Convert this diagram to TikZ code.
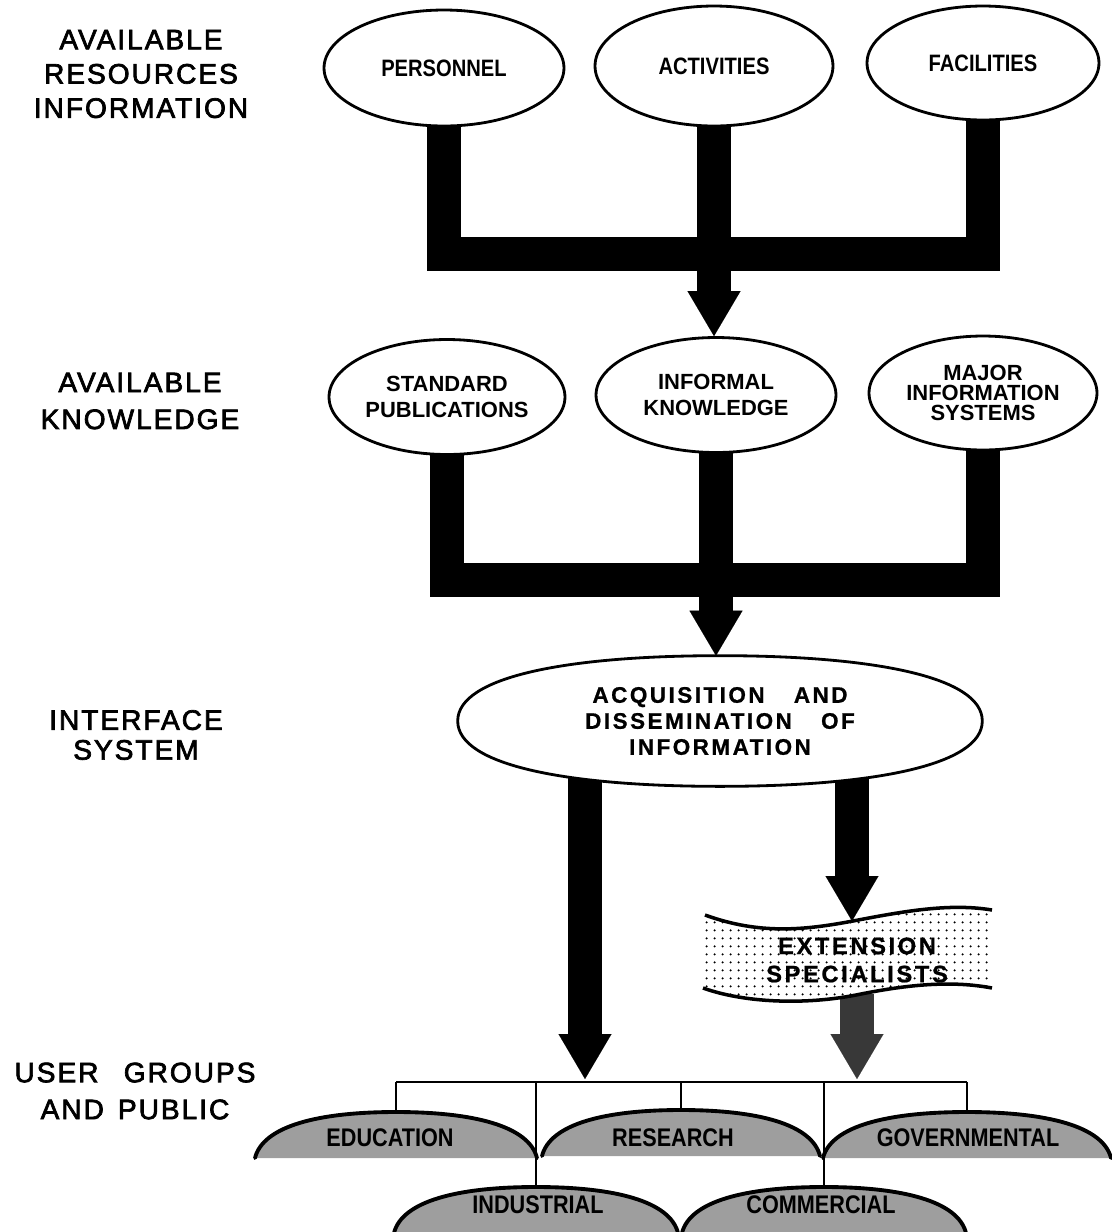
\documentclass[tikz,border=0pt]{standalone}
\usepackage{fontspec}
\setmainfont{Liberation Sans}
\newfontfamily\lblfont[LetterSpace=7,FakeBold=2.5]{Liberation Sans}
\newfontfamily\condfont[FakeStretch=0.85]{Liberation Sans}
\newfontfamily\spfont[LetterSpace=11,FakeBold=0.8]{Liberation Sans}
\usetikzlibrary{shapes.geometric,arrows.meta,patterns.meta,calc}
\pgfdeclarelayer{bg}
\pgfdeclarelayer{mid}
\pgfsetlayers{bg,mid,main}
\tikzdeclarepattern{
  name=sparsedots,
  type=uncolored,
  bounding box={(0pt,0pt) and (4.6pt,4.6pt)},
  tile size={(4.6pt,4.6pt)},
  code={\pgfpathcircle{\pgfqpoint{2.3pt}{2.3pt}}{0.75pt}\pgfusepath{fill}}
}
\newcommand\domeat[3]{% x of top, y of top, half width
  \fill[black!38] (#1-#3,#2+46) .. controls (#1-#3+8,#2+14) and (#1-0.55*#3,#2) .. (#1,#2)
     .. controls (#1+0.55*#3,#2) and (#1+#3-8,#2+14) .. (#1+#3,#2+46) -- cycle;
  \draw[line width=2.2pt,line cap=round] (#1-#3,#2+46) .. controls (#1-#3+8,#2+14) and (#1-0.55*#3,#2) .. (#1,#2)
     .. controls (#1+0.55*#3,#2) and (#1+#3-8,#2+14) .. (#1+#3,#2+46);
}
\begin{document}
\begin{tikzpicture}[x=0.02cm,y=-0.02cm,
  lbl/.style={align=center, inner sep=0pt, font=\lblfont\fontsize{16}{#1}\selectfont},
  ell/.style={ellipse, draw, line width=1.6pt, fill=white, inner sep=0pt, align=center},
  rowone/.style={font=\condfont\bfseries\fontsize{13.5}{16}\selectfont},
  rowtwo/.style={font=\bfseries\fontsize{12.5}{#1}\selectfont},
  bar/.style={line width=0.68cm, line join=miter, line cap=butt},
  tipped/.style={-{Triangle[length=0.9cm 0 0, width=1.06cm 0 0, line width=0.01pt]}},
  thinline/.style={line width=1.2pt},
  grp/.style={inner sep=0pt, font=\condfont\bfseries\fontsize{14.5}{16}\selectfont},
]
\useasboundingbox (0,0) rectangle (1112,1232);

% left-hand labels
\node[lbl=19.5] (L1) at (141,74) {AVAILABLE\\RESOURCES\\INFORMATION};
\node[lbl=21] (L2) at (140,401) {AVAILABLE\\KNOWLEDGE};
\node[lbl=17] (L3) at (136,735) {INTERFACE\\SYSTEM};
\node[lbl=21] (L4) at (135,1091) {USER\hspace{0.9em}GROUPS\\AND\hspace{0.5em}PUBLIC};

% row 1
\node[ell, rowone, minimum width=4.8cm, minimum height=2.32cm] (per) at (444,68) {PERSONNEL};
\node[ell, rowone, minimum width=4.76cm, minimum height=2.4cm] (act) at (714,66) {ACTIVITIES};
\node[ell, rowone, minimum width=4.64cm, minimum height=2.28cm] (fac) at (983,63) {FACILITIES};

% row 2
\node[ell, rowtwo=15, minimum width=4.72cm, minimum height=2.3cm] (std) at (447,397) {STANDARD\\PUBLICATIONS};
\node[ell, rowtwo=15, minimum width=4.8cm, minimum height=2.3cm] (inf) at (716,395) {INFORMAL\\KNOWLEDGE};
\node[ell, rowtwo=11.5, minimum width=4.56cm, minimum height=2.28cm] (maj) at (983,393) {MAJOR\\INFORMATION\\SYSTEMS};

% interface system
\node[inner sep=0pt, minimum width=10.48cm, minimum height=2.6cm, align=center,
      font=\spfont\bfseries\fontsize{12.8}{14.8}\selectfont] (acq) at (720,721)
  {ACQUISITION\hspace{1.3em}AND\\DISSEMINATION\hspace{1.3em}OF\\INFORMATION};

% extension specialists
\node[inner sep=0pt, align=center, font=\spfont\bfseries\fontsize{13.5}{16}\selectfont] (ext) at (857,960) {EXTENSION\\SPECIALISTS};
\coordinate (exttop) at (852,921);
\coordinate (extbot) at (857,994);

% user groups
\coordinate (bus) at (680,1082);
\coordinate (ladrop) at (585,1079);
\coordinate (edutop) at (396,1112);
\coordinate (indtop) at (536,1187);
\coordinate (restop) at (681,1110);
\coordinate (comtop) at (824,1187);
\coordinate (govtop) at (967,1112);
\node[grp] (edu) at (390,1138) {EDUCATION};
\node[grp] (res) at (673,1138) {RESEARCH};
\node[grp] (gov) at (968,1138) {GOVERNMENTAL};
\node[grp] (ind) at (538,1205) {INDUSTRIAL};
\node[grp] (com) at (821,1205) {COMMERCIAL};

\begin{pgfonlayer}{bg}
  \coordinate (j1) at (714,254);
  \draw[bar] (per.center) |- (j1) -| (fac.center);
  \draw[bar,tipped] (act.center) -- (act.center |- inf.north);
  \coordinate (j2) at (716,580);
  \draw[bar] (std.center) |- (j2) -| (maj.center);
  \draw[bar,tipped] (inf.center) -- (inf.center |- acq.north);
  \draw[bar,tipped] (acq.center -| ladrop) -- (ladrop);
  \draw[bar,tipped] (acq.center -| exttop) -- (exttop);
  \draw[bar,tipped,black!78] (extbot) -- (extbot |- ladrop);
  \draw[thinline] (bus -| edutop) -- (bus -| govtop);
  \draw[thinline] (bus -| edutop) -- (edutop);
  \draw[thinline] (bus -| indtop) -- (indtop);
  \draw[thinline] (bus -| restop) -- (restop);
  \draw[thinline] (bus -| comtop) -- (comtop);
  \draw[thinline] (bus -| govtop) -- (govtop);
\end{pgfonlayer}

\begin{pgfonlayer}{mid}
  \draw[line width=1.6pt, fill=white] (acq.west) .. controls +(0,-45) and +(-150,0) .. (acq.north)
     .. controls +(150,0) and +(0,-45) .. (acq.east)
     .. controls +(0,45) and +(150,0) .. (acq.south)
     .. controls +(-150,0) and +(0,45) .. (acq.west) -- cycle;
  % banner
  \path[fill=white] (705,915) .. controls (760,935) and (805,930) .. (853,921)
     .. controls (905,911) and (950,903) .. (992,910) -- (992,988)
     .. controls (950,980) and (905,985) .. (856,995)
     .. controls (805,1005) and (745,1003) .. (703,988) -- cycle;
  \path[pattern=sparsedots, pattern color=black] (705,915) .. controls (760,935) and (805,930) .. (853,921)
     .. controls (905,911) and (950,903) .. (992,910) -- (992,988)
     .. controls (950,980) and (905,985) .. (856,995)
     .. controls (805,1005) and (745,1003) .. (703,988) -- cycle;
  \draw[line width=2pt] (705,915) .. controls (760,935) and (805,930) .. (853,921)
     .. controls (905,911) and (950,903) .. (992,910);
  \draw[line width=2pt] (992,988) .. controls (950,980) and (905,985) .. (856,995)
     .. controls (805,1005) and (745,1003) .. (703,988);
  % domes
  \domeat{396}{1112}{141}
  \domeat{681}{1110}{139}
  \domeat{967}{1112}{144}
  \domeat{536}{1187}{142}
  \domeat{824}{1187}{142}
\end{pgfonlayer}
\end{tikzpicture}
\end{document}
